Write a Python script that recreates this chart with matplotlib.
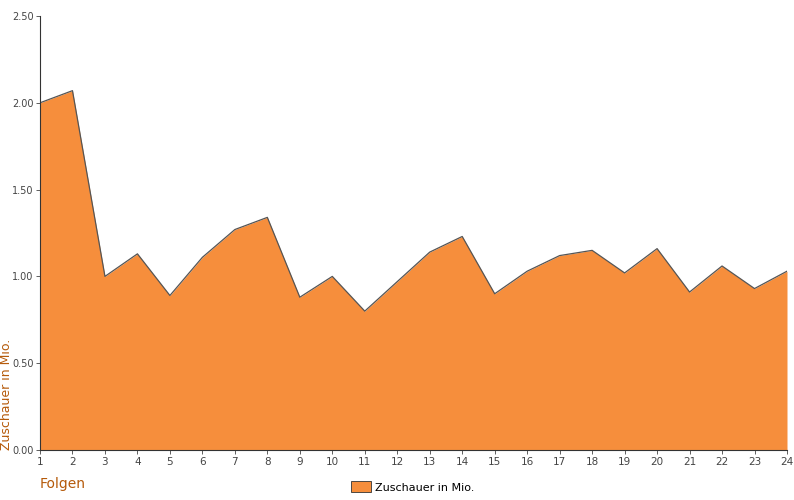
import matplotlib
matplotlib.use("Agg")
import matplotlib.pyplot as plt

folgen = list(range(1, 25))
zuschauer = [2.00, 2.07, 1.00, 1.13, 0.89, 1.11, 1.27, 1.34, 0.88, 1.00, 0.80, 0.97,
             1.14, 1.23, 0.90, 1.03, 1.12, 1.15, 1.02, 1.16, 0.91, 1.06, 0.93, 1.03]
y_ticks = [0.0, 0.5, 1.0, 1.5, 2.0, 2.5]

orange = "#F68E3C"
braun = "#B55A0A"

fig = plt.figure(figsize=(7.94, 5.0), dpi=100)
ax = fig.add_axes([40 / 794, 50 / 500, 747 / 794, 434 / 500])

ax.fill_between(folgen, zuschauer, 0, color=orange, linewidth=0, label="Zuschauer in Mio.")
ax.plot(folgen, zuschauer, color="#555555", linewidth=0.9)

ax.set_xlim(1, 24)
ax.set_ylim(0, 2.5)
ax.set_xticks(folgen)
ax.set_yticks(y_ticks)
ax.set_yticklabels([f"{v:.2f}" for v in y_ticks])
ax.tick_params(labelsize=7.5, colors="#444444", length=3, width=0.6, pad=2)
ax.tick_params(axis="y", labelsize=7, pad=1.5)

for s in ["top", "right"]:
    ax.spines[s].set_visible(False)
for s in ["left", "bottom"]:
    ax.spines[s].set_color("#333333")
    ax.spines[s].set_linewidth(0.8)

fig.text(7 / 794, 50 / 500, "Zuschauer in Mio.", rotation=90, va="bottom", ha="center",
         color=braun, fontsize=9)
fig.text(40 / 794, 16 / 500, "Folgen", va="center", ha="left", color=braun, fontsize=10)

fig.legend(loc="center", bbox_to_anchor=(0.52, 13 / 500), frameon=False, fontsize=8,
           handlelength=1.8, handleheight=1.1, handletextpad=0.4)
leg = fig.legends[0]
for h in leg.legend_handles:
    h.set_edgecolor("#333333")
    h.set_linewidth(0.6)

fig.savefig("out.png", dpi=100)
